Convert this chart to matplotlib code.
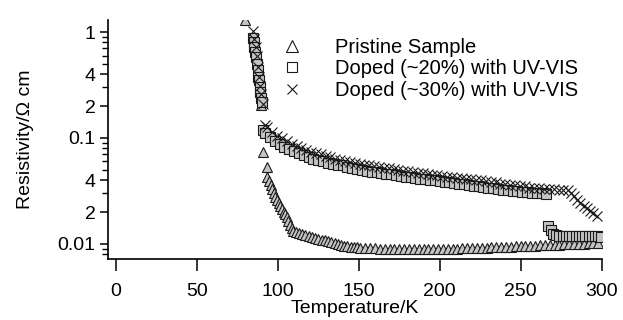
import matplotlib
matplotlib.use("Agg")
import matplotlib.pyplot as plt
from matplotlib.ticker import FixedLocator, FixedFormatter, NullFormatter

plt.rcParams['font.family'] = ['Liberation Sans', 'DejaVu Sans']

# ---------------- data ----------------
# Pristine sample (triangles)
pristine_T = [79.8, 89.5, 91.0, 93.0, 93.5, 94.5, 95.5, 96.5, 97.5, 98.5, 99.5, 100.5,
              101.5, 102.5, 103.5, 104.5, 105.5, 106.5, 107.5, 108.5, 109.5, 111, 113,
              115, 117, 119, 121, 123, 125, 127, 129, 131, 133, 135, 137, 139, 141,
              143, 145, 147, 149, 151, 154, 157, 160, 163, 166, 169, 172, 175, 178,
              181, 184, 187, 190, 193, 196, 199, 202, 205, 208, 211, 214, 217, 220,
              223, 226, 229, 232, 235, 238, 241, 244, 247, 250, 253, 256, 259, 262,
              265, 268, 271, 274, 277, 280, 283, 286, 289, 292, 295, 298]
pristine_R = [1.30, 0.205, 0.074, 0.053, 0.043, 0.039, 0.036, 0.033, 0.030, 0.028,
              0.026, 0.0245, 0.023, 0.0215, 0.0202, 0.019, 0.0178, 0.0165, 0.0150,
              0.0140, 0.0132, 0.0129, 0.0126, 0.0124, 0.0121, 0.0118, 0.0116, 0.0113,
              0.0111, 0.0109, 0.0108, 0.0106, 0.0104, 0.0102, 0.0100, 0.0098, 0.0096,
              0.0095, 0.0094, 0.0093, 0.0093, 0.0092, 0.0092, 0.0091, 0.0091, 0.0090,
              0.0090, 0.0090, 0.0090, 0.0089, 0.0089, 0.0089, 0.0089, 0.0089, 0.0089,
              0.0089, 0.0089, 0.0089, 0.0090, 0.0090, 0.0090, 0.0090, 0.0091, 0.0091,
              0.0091, 0.0092, 0.0092, 0.0092, 0.0093, 0.0093, 0.0094, 0.0094, 0.0094,
              0.0095, 0.0095, 0.0096, 0.0096, 0.0096, 0.0097, 0.0097, 0.0098, 0.0098,
              0.0098, 0.0099, 0.0099, 0.0100, 0.0100, 0.0100, 0.0101, 0.0101, 0.0102]

# Doped (~20%) with UV-VIS (squares)
doped20_T = [84.5, 85.0, 85.5, 86.0, 86.5, 87.0, 87.5, 87.8, 88.2, 88.8, 89.2, 89.6,
             90.0, 91.0, 92, 95, 98, 101, 104, 107, 110, 113, 116, 119, 122, 125, 128,
             131, 134, 137, 140, 143, 146, 149, 152, 155, 158, 161, 164, 167, 170,
             173, 176, 179, 182, 185, 188, 191, 194, 197, 200, 203, 206, 209, 212,
             215, 218, 221, 224, 227, 230, 233, 236, 239, 242, 245, 248, 251, 254,
             257, 260, 263, 266, 267, 268.5, 270, 272, 274, 276, 278, 280, 282, 284,
             286, 288, 290, 292, 294, 296, 298, 299.5]
doped20_R = [0.88, 0.80, 0.72, 0.65, 0.58, 0.50, 0.44, 0.38, 0.35, 0.30, 0.27, 0.24,
             0.22, 0.118, 0.112, 0.102, 0.094, 0.088, 0.083, 0.079, 0.075, 0.072,
             0.069, 0.066, 0.064, 0.062, 0.060, 0.058, 0.057, 0.056, 0.055, 0.053,
             0.052, 0.051, 0.050, 0.049, 0.048, 0.048, 0.047, 0.046, 0.046, 0.045,
             0.044, 0.043, 0.043, 0.042, 0.041, 0.041, 0.040, 0.040, 0.039, 0.038,
             0.038, 0.0375, 0.037, 0.0365, 0.036, 0.0355, 0.035, 0.0345, 0.034,
             0.0335, 0.033, 0.0325, 0.032, 0.0318, 0.0315, 0.031, 0.0308, 0.0305,
             0.030, 0.030, 0.0298, 0.0148, 0.0135, 0.0123, 0.0121, 0.0120, 0.0119,
             0.0119, 0.0118, 0.0119, 0.0118, 0.0118, 0.0119, 0.0118, 0.0118, 0.0119,
             0.0118, 0.0118, 0.0117]

# Doped (~30%) with UV-VIS (crosses)
doped30_T = [84.7, 85.5, 86.3, 87.0, 87.8, 88.5, 89.2, 89.8, 90.5, 92.0, 93.5, 96.5,
             99.5, 102.5, 105.5, 108.5, 111.5, 114.5, 117.5, 120.5, 123.5, 126.5,
             129.5, 132.5, 135.5, 138.5, 141.5, 144.5, 147.5, 150.5, 153.5, 156.5,
             159.5, 162.5, 165.5, 168.5, 171.5, 174.5, 177.5, 180.5, 183.5, 186.5,
             189.5, 192.5, 195.5, 198.5, 201.5, 204.5, 207.5, 210.5, 213.5, 216.5,
             219.5, 222.5, 225.5, 228.5, 231.5, 234.5, 237.5, 240.5, 243.5, 246.5,
             249.5, 252.5, 255.5, 258.5, 261.5, 264.5, 267.5, 270.5, 273.5, 276.5,
             279.5, 281, 283, 285, 287, 289, 291, 293, 295, 297]
doped30_R = [1.02, 0.86, 0.72, 0.60, 0.47, 0.38, 0.31, 0.26, 0.21,
             0.133, 0.126, 0.114, 0.105, 0.099, 0.093, 0.088, 0.084, 0.080, 0.077,
             0.074, 0.072, 0.070, 0.068, 0.066, 0.064, 0.062, 0.061, 0.059, 0.058,
             0.057, 0.056, 0.055, 0.054, 0.053, 0.052, 0.052, 0.051, 0.050, 0.049,
             0.049, 0.048, 0.047, 0.047, 0.046, 0.045, 0.045, 0.044, 0.043, 0.043,
             0.042, 0.042, 0.041, 0.041, 0.040, 0.040, 0.039, 0.038, 0.038, 0.037,
             0.037, 0.036, 0.036, 0.035, 0.035, 0.034, 0.034, 0.034, 0.033, 0.033,
             0.033, 0.032, 0.032, 0.032,
             0.0305, 0.0285, 0.0262, 0.0245, 0.023, 0.0217, 0.0205, 0.0195, 0.0185]

labels = ["Pristine Sample", "Doped (~20%) with UV-VIS", "Doped (~30%) with UV-VIS"]

y_major = [0.01, 0.02, 0.04, 0.1, 0.2, 0.4, 1]
y_major_labels = ["0.01", "2", "4", "0.1", "2", "4", "1"]
y_minor = [0.008, 0.009, 0.03, 0.05, 0.06, 0.07, 0.08, 0.09,
           0.3, 0.5, 0.6, 0.7, 0.8, 0.9]
x_ticks = [0, 50, 100, 150, 200, 250, 300]

# ---------------- figure ----------------
W, H = 623, 320
fig = plt.figure(figsize=(W / 100, H / 100), dpi=100)
ax = fig.add_axes([108 / W, 1 - 259 / H, (601.5 - 108) / W, (259 - 20) / H])

common = dict(linestyle='none', markerfacecolor='#c4c4c4', markeredgecolor='#1a1a1a',
              markeredgewidth=0.8, color='#1a1a1a')
ax.plot(pristine_T, pristine_R, marker='^', markersize=7, label=labels[0], **common)
ax.plot(doped20_T, doped20_R, marker='s', markersize=6.5, label=labels[1], **common)
ax.plot(doped30_T, doped30_R, marker='x', markersize=6.5, label=labels[2], **common)

ax.set_yscale('log')
ax.set_xlim(-5, 300)
ax.set_ylim(0.0072, 1.30)

ax.yaxis.set_major_locator(FixedLocator(y_major))
ax.yaxis.set_major_formatter(FixedFormatter(y_major_labels))
ax.yaxis.set_minor_locator(FixedLocator(y_minor))
ax.yaxis.set_minor_formatter(NullFormatter())
ax.set_xticks(x_ticks)
ax.set_xticklabels([str(t) for t in x_ticks])

for s in ['top', 'right']:
    ax.spines[s].set_visible(False)
for s in ['left', 'bottom']:
    ax.spines[s].set_linewidth(1.2)

ax.tick_params(axis='y', which='major', length=6, width=1.1, direction='out',
               labelsize=14, pad=3)
ax.tick_params(axis='y', which='minor', length=4, width=1.0, direction='out')
ax.tick_params(axis='x', which='major', length=8.5, width=1.1, direction='out',
               labelsize=14, pad=8.5)

ax.set_xlabel("Temperature/K", fontsize=14, labelpad=0.5)
ax.set_ylabel("Resistivity/\u03a9 cm", fontsize=14, labelpad=17)

leg = ax.legend(loc='upper left', bbox_to_anchor=(277 / W, 1 - 38 / H),
                bbox_transform=fig.transFigure, frameon=False, fontsize=14.5,
                handlelength=1.5, handletextpad=1.4, labelspacing=0.12,
                borderpad=0, borderaxespad=0, markerscale=1.15)
for h in leg.legend_handles:
    h.set_markerfacecolor('none')

fig.savefig("out.png", dpi=100)
